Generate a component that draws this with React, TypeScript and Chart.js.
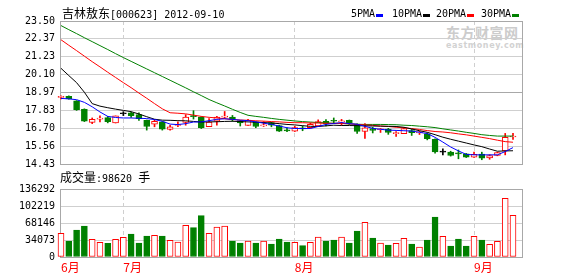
import { useEffect, useRef } from "react";
import { Chart, registerables } from "chart.js";

Chart.register(...registerables);

// ---------- data ----------
const TITLE_NAME = "吉林敖东";
const TITLE_CODE = "[000623] 2012-09-10";
const VOLUME_NAME = "成交量";
const VOLUME_VALUE = ":98620 ";
const VOLUME_UNIT = "手";
const MONTH_LABELS = ["6月", "7月", "8月", "9月"];
const MONTH_START_INDEX = [0, 8, 30, 53];
const PRICE_TICKS = ["23.50", "22.37", "21.23", "20.10", "18.97", "17.83", "16.70", "15.56", "14.43"];
const VOLUME_TICKS = ["136292", "102219", "68146", "34073", "0"];
const MA_LABELS = ["5PMA", "10PMA", "20PMA", "30PMA"];

const OPEN = [18.66, 18.72, 18.43, 17.89, 17.06, 17.28, 17.37, 17.03, 17.62, 17.68, 17.56, 17.2, 16.95, 17.1, 16.62, 16.87, 17.06, 17.46, 17.41, 16.79, 17.14, 17.4, 17.41, 17.18, 16.87, 17.1, 16.85, 17.06, 16.87, 16.56, 16.51, 16.69, 16.73, 16.85, 17.14, 17.16, 17.1, 17.2, 16.96, 16.49, 16.68, 16.6, 16.65, 16.36, 16.35, 16.55, 16.4, 16.35, 15.99, 15.18, 15.18, 15.1, 15.07, 14.87, 15.06, 14.81, 14.97, 15.26, 16.14];
const HIGH = [18.75, 18.75, 18.45, 17.93, 17.35, 17.48, 17.45, 17.48, 17.75, 17.73, 17.68, 17.22, 17.26, 17.12, 16.89, 17.1, 17.56, 17.81, 17.43, 17.31, 17.45, 17.76, 17.51, 17.2, 17.26, 17.1, 17.12, 17.08, 16.89, 16.73, 16.83, 16.85, 17.03, 17.23, 17.24, 17.35, 17.26, 17.22, 16.98, 17.0, 16.76, 16.68, 16.69, 16.49, 16.74, 16.62, 16.52, 16.4, 16.02, 15.39, 15.24, 15.32, 15.1, 15.18, 15.18, 15.02, 15.18, 16.37, 16.37];
const LOW = [18.55, 18.54, 17.83, 17.12, 16.99, 17.1, 17.04, 17.03, 17.5, 17.39, 17.2, 16.58, 16.79, 16.58, 16.58, 16.79, 16.89, 17.28, 16.68, 16.79, 16.89, 17.31, 17.14, 16.84, 16.87, 16.73, 16.81, 16.79, 16.49, 16.48, 16.49, 16.54, 16.7, 16.85, 16.85, 17.03, 16.89, 16.93, 16.37, 16.06, 16.4, 16.43, 16.31, 16.18, 16.35, 16.24, 16.3, 15.96, 15.12, 15.01, 14.93, 14.76, 14.84, 14.84, 14.7, 14.73, 14.95, 15.01, 15.99];
const CLOSE = [18.68, 18.56, 17.87, 17.14, 17.26, 17.31, 17.12, 17.48, 17.62, 17.49, 17.31, 16.81, 17.14, 16.64, 16.79, 16.89, 17.41, 17.43, 16.74, 17.09, 17.41, 17.42, 17.25, 17.03, 17.21, 16.81, 16.87, 16.89, 16.51, 16.53, 16.74, 16.66, 16.95, 17.12, 16.99, 17.14, 17.14, 17.04, 16.49, 16.73, 16.56, 16.62, 16.43, 16.38, 16.68, 16.41, 16.43, 16.03, 15.2, 15.18, 14.97, 15.07, 14.86, 15.04, 14.8, 14.97, 15.16, 16.12, 16.16];
const VOLUME = [47500, 32000, 54000, 62000, 35400, 29400, 27400, 35400, 39500, 46000, 28000, 42000, 43400, 42000, 33400, 30000, 63500, 58800, 82800, 47500, 60000, 62000, 32000, 28000, 32000, 28000, 32000, 26000, 36000, 30000, 29400, 22700, 29400, 40000, 32000, 34000, 40000, 28000, 52000, 69500, 38000, 28000, 24000, 27400, 37400, 26000, 20000, 34000, 80000, 41400, 22000, 36000, 22000, 41400, 34000, 25400, 31400, 117600, 83500];

const MA5 = [18.59, 18.56, 18.51, 18.34, 18.06, 17.73, 17.45, 17.38, 17.35, 17.35, 17.33, 17.31, 17.25, 17.14, 16.96, 16.93, 16.99, 17.09, 17.1, 17.18, 17.26, 17.3, 17.26, 17.21, 17.18, 17.1, 17.02, 16.94, 16.84, 16.73, 16.68, 16.68, 16.68, 16.81, 16.94, 17.0, 17.06, 16.99, 16.95, 16.82, 16.69, 16.63, 16.58, 16.56, 16.54, 16.52, 16.44, 16.36, 16.12, 15.82, 15.51, 15.26, 15.04, 15.01, 15.01, 15.01, 15.01, 15.22, 15.47];
const MA10 = [20.5, 20.04, 19.59, 18.98, 18.26, 18.1, 18.0, 17.91, 17.83, 17.75, 17.6, 17.43, 17.27, 17.21, 17.2, 17.18, 17.17, 17.13, 17.09, 17.1, 17.11, 17.13, 17.14, 17.12, 17.1, 17.08, 17.06, 17.03, 16.99, 16.94, 16.91, 16.86, 16.82, 16.81, 16.85, 16.89, 16.87, 16.87, 16.86, 16.85, 16.84, 16.83, 16.82, 16.81, 16.76, 16.65, 16.54, 16.44, 16.29, 16.13, 16.0, 15.88, 15.76, 15.64, 15.53, 15.38, 15.24, 15.26, 15.27];
const MA20 = [22.31, 21.96, 21.62, 21.27, 20.92, 20.59, 20.25, 19.92, 19.59, 19.27, 18.93, 18.6, 18.26, 17.93, 17.68, 17.65, 17.61, 17.53, 17.45, 17.39, 17.35, 17.3, 17.25, 17.22, 17.2, 17.17, 17.15, 17.12, 17.1, 17.07, 17.05, 17.05, 17.03, 17.03, 17.01, 17.01, 17.0, 16.98, 16.94, 16.91, 16.88, 16.84, 16.81, 16.76, 16.73, 16.68, 16.62, 16.55, 16.49, 16.46, 16.41, 16.34, 16.28, 16.2, 16.12, 16.04, 15.94, 15.85, 15.81];
const MA30 = [23.21, 22.95, 22.7, 22.44, 22.19, 21.94, 21.69, 21.43, 21.18, 20.94, 20.7, 20.46, 20.22, 19.98, 19.74, 19.5, 19.26, 19.01, 18.77, 18.52, 18.31, 18.11, 17.9, 17.7, 17.52, 17.45, 17.39, 17.32, 17.26, 17.21, 17.16, 17.12, 17.09, 17.06, 17.04, 17.01, 17.0, 16.97, 16.95, 16.94, 16.94, 16.94, 16.93, 16.92, 16.89, 16.87, 16.83, 16.79, 16.74, 16.66, 16.59, 16.52, 16.44, 16.37, 16.29, 16.24, 16.2, 16.2, 16.2];

// ---------- styles / layout ----------
const RED = "#ff0000";
const GREEN = "#008000";
const BLACK = "#000000";
const MA_COLORS = ["#0000ff", "#000000", "#ff0000", "#008000"];
const GRID_LIGHT = "#cfcfcf";
const GRID_DARK = "#a8a8a8";
const FRAME = "#a8a8a8";
const X_MIN = -0.1283;
const X_MAX = 59.155;
const LEGEND_X = [351, 392, 436, 481];

const framePlugin = {
  id: "frame",
  beforeDatasetsDraw(chart: any) {
    const { ctx, chartArea: a } = chart;
    ctx.save();
    ctx.strokeStyle = FRAME;
    ctx.lineWidth = 1;
    ctx.strokeRect(
      Math.round(a.left) + 0.5,
      Math.round(a.top) + 0.5,
      Math.round(a.right - a.left),
      Math.round(a.bottom - a.top)
    );
    ctx.restore();
  },
};

const tickFont = { family: '"DejaVu Sans Mono", monospace', size: 10 };

export default function App() {
  const priceRef = useRef<HTMLCanvasElement>(null);
  const volRef = useRef<HTMLCanvasElement>(null);

  useEffect(() => {
    const n = CLOSE.length;
    const idx = Array.from({ length: n }, (_, i) => i);
    const lineColor = (i: number) =>
      CLOSE[i] > OPEN[i] ? RED : CLOSE[i] < OPEN[i] ? GREEN : BLACK;
    const bodyFill = (i: number) => (CLOSE[i] > OPEN[i] ? "#ffffff" : lineColor(i));
    const volUp = (i: number) => CLOSE[i] >= OPEN[i];

    const xScale = (showLabels: boolean) => ({
      type: "linear" as const,
      min: X_MIN,
      max: X_MAX,
      offset: false,
      afterBuildTicks: (s: any) => {
        s.ticks = MONTH_START_INDEX.map((v) => ({ value: v }));
      },
      afterFit: (s: any) => {
        s.height = showLabels ? 19 : 0;
      },
      ticks: {
        display: showLabels,
        autoSkip: false,
        maxRotation: 0,
        align: "start" as const,
        padding: 3,
        color: RED,
        font: { family: '"Noto Sans CJK SC"', size: 12 },
        callback: (_v: any, i: number) => MONTH_LABELS[i],
      },
      grid: { color: GRID_LIGHT, drawTicks: false, offset: false },
      border: { display: false, dash: [4, 3] },
    });

    const mas = [MA5, MA10, MA20, MA30];
    const priceChart = new Chart(priceRef.current!, {
      type: "bar",
      data: {
        datasets: [
          ...mas.map((arr, k) => ({
            type: "line" as const,
            label: MA_LABELS[k],
            data: idx.map((i) => ({ x: i, y: arr[i] })),
            borderColor: MA_COLORS[k],
            borderWidth: 1,
            pointRadius: 0,
            tension: 0,
            fill: false,
            order: 0,
          })),
          {
            type: "bar" as const,
            label: "body",
            data: idx.map((i) => ({ x: i, y: [OPEN[i], CLOSE[i]] })),
            backgroundColor: idx.map(bodyFill),
            borderColor: idx.map(lineColor),
            borderWidth: 1,
            borderSkipped: false,
            barThickness: 6,
            minBarLength: 1,
            grouped: false,
            clip: false,
            order: 1,
          },
          {
            type: "bar" as const,
            label: "wick",
            data: idx.map((i) => ({ x: i, y: [LOW[i], HIGH[i]] })),
            backgroundColor: idx.map(lineColor),
            borderWidth: 0,
            barThickness: 1,
            grouped: false,
            clip: false,
            order: 2,
          },
        ] as any,
      },
      options: {
        responsive: false,
        maintainAspectRatio: false,
        animation: false,
        devicePixelRatio: 1,
        events: [],
        layout: { padding: { left: 0, top: 21, right: 56, bottom: 9 } },
        plugins: { legend: { display: false }, tooltip: { enabled: false } },
        scales: {
          x: xScale(false) as any,
          y: {
            type: "linear",
            min: 14.43,
            max: 23.5,
            afterBuildTicks: (s: any) => {
              s.ticks = PRICE_TICKS.map((t) => ({ value: parseFloat(t) }));
            },
            afterFit: (s: any) => {
              s.width = 60;
            },
            ticks: {
              autoSkip: false,
              padding: 5,
              color: "#000",
              font: tickFont,
              callback: (v: any) => {
                const f = PRICE_TICKS.find((t) => Math.abs(parseFloat(t) - Number(v)) < 1e-6);
                return f ?? String(v);
              },
            },
            grid: {
              drawTicks: false,
              color: (c: any) =>
                c.tick && Math.abs(c.tick.value - parseFloat(PRICE_TICKS[4])) < 1e-6 ? GRID_DARK : GRID_LIGHT,
            },
            border: { display: false },
          } as any,
        },
      },
      plugins: [framePlugin],
    });

    const volChart = new Chart(volRef.current!, {
      type: "bar",
      data: {
        datasets: [
          {
            label: "volume",
            data: idx.map((i) => ({ x: i, y: VOLUME[i] })),
            backgroundColor: idx.map((i) => (volUp(i) ? "#ffffff" : GREEN)),
            borderColor: idx.map((i) => (volUp(i) ? RED : GREEN)),
            borderWidth: 1,
            borderSkipped: false,
            barThickness: 6,
            grouped: false,
            clip: false,
          },
        ] as any,
      },
      options: {
        responsive: false,
        maintainAspectRatio: false,
        animation: false,
        devicePixelRatio: 1,
        events: [],
        layout: { padding: { left: 0, top: 13, right: 56, bottom: 0 } },
        plugins: { legend: { display: false }, tooltip: { enabled: false } },
        scales: {
          x: xScale(true) as any,
          y: {
            type: "linear",
            min: 0,
            max: parseFloat(VOLUME_TICKS[0]),
            afterBuildTicks: (s: any) => {
              s.ticks = VOLUME_TICKS.map((t) => ({ value: parseFloat(t) })).reverse();
            },
            afterFit: (s: any) => {
              s.width = 60;
            },
            ticks: {
              autoSkip: false,
              padding: 5,
              color: "#000",
              font: tickFont,
              callback: (v: any) => String(Math.round(Number(v))),
            },
            grid: { drawTicks: false, color: GRID_LIGHT },
            border: { display: false },
          } as any,
        },
      },
      plugins: [framePlugin],
    });

    return () => {
      priceChart.destroy();
      volChart.destroy();
    };
  }, []);

  const cjk = '"Noto Sans CJK SC", sans-serif';
  const mono = '"DejaVu Sans Mono", monospace';

  return (
    <div
      style={{
        position: "absolute",
        left: 0,
        top: 0,
        width: 578,
        height: 276,
        background: "#ffffff",
        overflow: "hidden",
        color: "#000",
      }}
    >
      {/* watermark */}
      <div style={{ position: "absolute", left: 446, top: 25, fontFamily: cjk, fontSize: 14, fontWeight: 700, lineHeight: "14px", color: "#cccccc", letterSpacing: 0.5 }}>
        东方财富网
      </div>
      <div style={{ position: "absolute", left: 446, top: 42, fontFamily: '"DejaVu Sans", sans-serif', fontSize: 8, fontWeight: 700, lineHeight: "8px", color: "#d2d2d2", letterSpacing: 0.6 }}>
        eastmoney.com
      </div>

      <canvas ref={priceRef} width={578} height={175} style={{ position: "absolute", left: 0, top: 0, width: 578, height: 175 }} />
      <canvas ref={volRef} width={578} height={100} style={{ position: "absolute", left: 0, top: 176, width: 578, height: 100 }} />

      {/* title */}
      <div style={{ position: "absolute", left: 62, top: 7, whiteSpace: "nowrap", lineHeight: "12px" }}>
        <span style={{ fontFamily: cjk, fontSize: 12 }}>{TITLE_NAME}</span>
        <span style={{ fontFamily: mono, fontSize: 10 }}>{TITLE_CODE}</span>
      </div>

      {/* legend */}
      {MA_LABELS.map((l, k) => (
        <div key={l} style={{ position: "absolute", left: LEGEND_X[k], top: 8, height: 12, display: "flex", alignItems: "center", whiteSpace: "nowrap" }}>
          <span style={{ fontFamily: mono, fontSize: 10, lineHeight: "12px" }}>{l}</span>
          <span style={{ display: "inline-block", width: 7, height: 3, marginLeft: 1, marginTop: 3, background: MA_COLORS[k] }} />
        </div>
      ))}

      {/* volume label */}
      <div style={{ position: "absolute", left: 60, top: 171, whiteSpace: "nowrap", lineHeight: "12px" }}>
        <span style={{ fontFamily: cjk, fontSize: 12 }}>{VOLUME_NAME}</span>
        <span style={{ fontFamily: mono, fontSize: 10 }}>{VOLUME_VALUE}</span>
        <span style={{ fontFamily: cjk, fontSize: 12 }}>{VOLUME_UNIT}</span>
      </div>
    </div>
  );
}
